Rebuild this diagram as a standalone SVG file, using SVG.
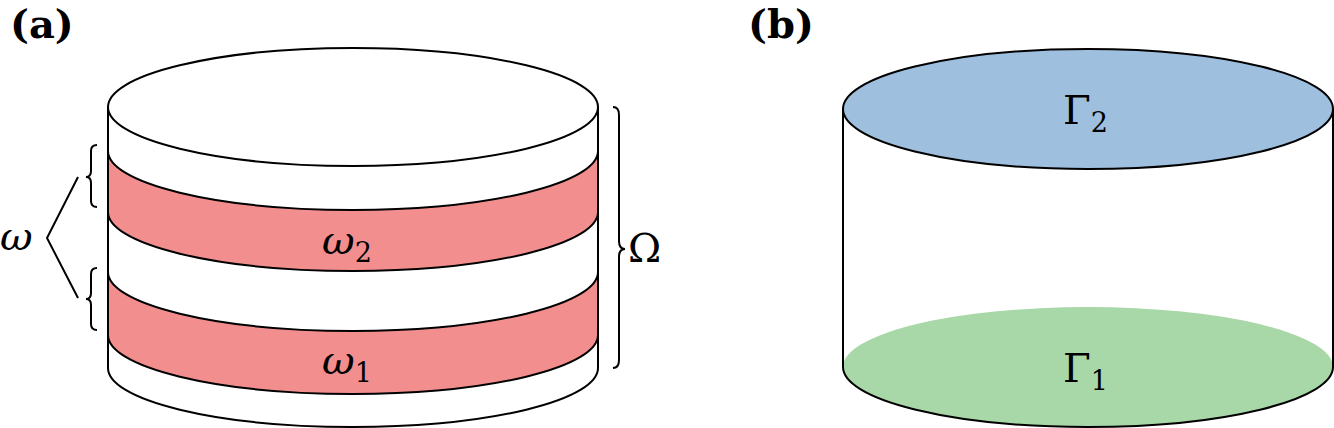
<svg xmlns="http://www.w3.org/2000/svg" width="1334" height="428" viewBox="0 0 1334 428">
<style>
.s{stroke:#000;stroke-width:2;fill:none}
.w{fill:#fff;stroke:#000;stroke-width:2}
.r{fill:#F28E8E;stroke:#000;stroke-width:2}
text{font-family:'DejaVu Serif','Liberation Serif',serif}
.m{font-style:italic;font-size:40px}
.u{font-size:40px}
.sub{font-size:27px;font-style:normal}
.lab{font-weight:bold;font-size:40px}
</style>
<rect width="1334" height="428" fill="#fff"/>
<text class="lab" x="10" y="38">(a)</text>
<text class="lab" x="748" y="38">(b)</text>
<g id="cylinderA">
<path class="w" d="M108,107 L108,368 A245,59 0 0 0 598,368 L598,107 Z"/>
<path class="r" d="M108,151 A245,59 0 0 0 598,151 L598,212 A245,59 0 0 1 108,212 Z"/>
<path class="r" d="M108,272 A245,59 0 0 0 598,272 L598,335 A245,59 0 0 1 108,335 Z"/>
<ellipse class="w" cx="353" cy="107" rx="245" ry="59"/>
<text class="m" x="322" y="254">ω<tspan class="sub" dy="8">2</tspan></text>
<text class="m" x="322" y="374">ω<tspan class="sub" dy="8">1</tspan></text>
</g>
<g id="braces">
<path class="s" d="M613,107 Q619,107 619,115 L619,241 Q619,249 625,249 Q619,249 619,257 L619,360 Q619,368 613,368" stroke-width="1.6"/>
<text class="u" x="628" y="262">Ω</text>
<path class="s" d="M97,145 Q91,145 91,151 L91,171 Q91,177 86,177 Q91,177 91,183 L91,201 Q91,207 97,207" stroke-width="1.6"/>
<path class="s" d="M97,268 Q91,268 91,274 L91,293 Q91,299 86,299 Q91,299 91,305 L91,324 Q91,330 97,330" stroke-width="1.6"/>
<path class="s" d="M78,177 L47,238 L78,298" stroke-width="1.6"/>
<text class="m" x="0" y="250">ω</text>
</g>
<g id="cylinderB">
<ellipse cx="1088" cy="367" rx="245" ry="60" fill="#A8D8A8"/>
<path class="s" d="M843,109 L843,367 A245,60 0 0 0 1333,367 L1333,109"/>
<ellipse cx="1088" cy="109" rx="245" ry="60" fill="#9EBFDD" stroke="#000" stroke-width="2"/>
<text class="u" x="1063" y="124">Γ<tspan class="sub" dy="8">2</tspan></text>
<text class="u" x="1063" y="382">Γ<tspan class="sub" dy="8">1</tspan></text>
</g>
</svg>
